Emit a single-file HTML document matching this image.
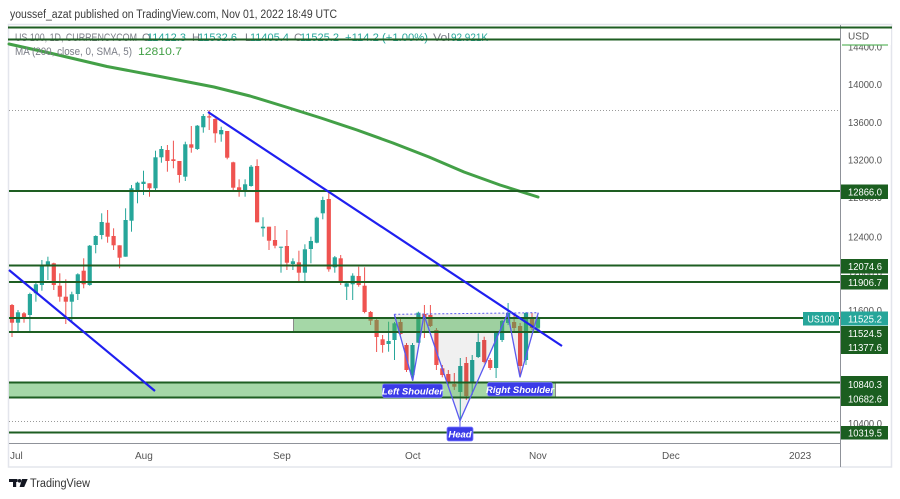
<!DOCTYPE html>
<html><head><meta charset="utf-8"><style>
html,body{margin:0;padding:0;background:#fff;}
svg{display:block;font-family:"Liberation Sans",Arial,sans-serif;}
</style></head><body>
<svg width="900" height="499" viewBox="0 0 900 499" xmlns="http://www.w3.org/2000/svg">
<rect width="900" height="499" fill="#fff"/>
<text x="10" y="18" font-size="11.5" fill="#3a3a3a" textLength="327" lengthAdjust="spacingAndGlyphs">youssef_azat published on TradingView.com, Nov 01, 2022 18:49 UTC</text>
<rect x="8.5" y="24.5" width="883" height="442.5" fill="#fff" stroke="#e3e5ec" stroke-width="1.5"/>

<!-- dotted high/low lines -->
<line x1="9" x2="840" y1="110.5" y2="110.5" stroke="#9a9a9a" stroke-width="1" stroke-dasharray="1,2"/>
<line x1="9" x2="840" y1="421.5" y2="421.5" stroke="#9a9a9a" stroke-width="1" stroke-dasharray="1,2"/>

<!-- red candles -->
<g fill="#ef5350">
<rect x="11.5" y="304" width="1" height="33"/><rect x="9.9" y="305" width="4.2" height="17.7"/>
<rect x="23.5" y="312" width="1" height="10.7"/><rect x="21.9" y="313.3" width="4.2" height="4"/>
<rect x="53.3" y="262.7" width="1" height="27.3"/><rect x="51.7" y="263.3" width="4.2" height="21.7"/>
<rect x="59.3" y="273.3" width="1" height="28.4"/><rect x="57.7" y="285.7" width="4.2" height="11"/>
<rect x="65.3" y="279.3" width="1" height="44.7"/><rect x="63.7" y="296.7" width="4.2" height="5"/>
<rect x="83.2" y="258.3" width="1" height="30"/><rect x="81.6" y="270.7" width="4.2" height="13.6"/>
<rect x="107.1" y="210" width="1" height="32.7"/><rect x="105.5" y="222.7" width="4.2" height="14"/>
<rect x="113.1" y="228.3" width="1" height="21.7"/><rect x="111.5" y="236" width="4.2" height="9.3"/>
<rect x="119.1" y="245.3" width="1" height="23"/><rect x="117.5" y="245.3" width="4.2" height="12.4"/>
<rect x="149" y="183.3" width="1" height="13.4"/><rect x="147.4" y="183.3" width="4.2" height="5"/>
<rect x="166.9" y="145" width="1" height="26.7"/><rect x="165.3" y="150" width="4.2" height="11"/>
<rect x="172.9" y="140.7" width="1" height="27.6"/><rect x="171.3" y="159.3" width="4.2" height="1.7"/>
<rect x="178.9" y="161" width="1" height="21.7"/><rect x="177.3" y="161" width="4.2" height="14"/>
<rect x="190.8" y="126" width="1" height="26.7"/><rect x="189.2" y="144.3" width="4.2" height="3.4"/>
<rect x="208.7" y="110" width="1" height="20"/><rect x="207.1" y="116.3" width="4.2" height="1.2"/>
<rect x="214.7" y="118.3" width="1" height="24.4"/><rect x="213.1" y="119" width="4.2" height="14.3"/>
<rect x="226.7" y="131" width="1" height="28.3"/><rect x="225.1" y="131" width="4.2" height="26.7"/>
<rect x="232.7" y="161.7" width="1" height="28.3"/><rect x="231.1" y="162.3" width="4.2" height="25.4"/>
<rect x="238.6" y="179.3" width="1" height="17.4"/><rect x="237" y="187.3" width="4.2" height="3.4"/>
<rect x="256.6" y="159.3" width="1" height="63"/><rect x="255" y="166" width="4.2" height="56.3"/>
<rect x="268.5" y="226.7" width="1" height="23.3"/><rect x="266.9" y="226.7" width="4.2" height="14"/>
<rect x="274.5" y="226" width="1" height="22.3"/><rect x="272.9" y="240" width="4.2" height="5.7"/>
<rect x="286.4" y="230" width="1" height="40"/><rect x="284.8" y="246" width="4.2" height="16.7"/>
<rect x="298.4" y="250.7" width="1" height="31"/><rect x="296.8" y="262.3" width="4.2" height="10.4"/>
<rect x="328.3" y="192.3" width="1" height="79.4"/><rect x="326.7" y="199" width="4.2" height="70.3"/>
<rect x="340.2" y="255" width="1" height="30"/><rect x="338.6" y="258.3" width="4.2" height="24.4"/>
<rect x="358.2" y="266.7" width="1" height="20"/><rect x="356.6" y="276" width="4.2" height="9"/>
<rect x="364.1" y="267.3" width="1" height="46"/><rect x="362.5" y="285.7" width="4.2" height="26.3"/>
<rect x="370.1" y="311" width="1" height="14"/><rect x="368.5" y="312" width="4.2" height="8.7"/>
<rect x="376.1" y="318" width="1" height="34"/><rect x="374.5" y="320" width="4.2" height="17"/>
<rect x="382.1" y="335" width="1" height="17.7"/><rect x="380.5" y="339.3" width="4.2" height="5.7"/>
<rect x="400" y="318" width="1" height="17"/><rect x="398.4" y="322" width="4.2" height="12"/>
<rect x="406" y="343" width="1" height="29"/><rect x="404.4" y="345" width="4.2" height="25"/>
<rect x="423.9" y="305" width="1" height="33"/><rect x="422.3" y="314" width="4.2" height="3"/>
<rect x="429.9" y="305" width="1" height="22"/><rect x="428.3" y="315" width="4.2" height="11"/>
<rect x="435.9" y="328" width="1" height="42"/><rect x="434.3" y="330" width="4.2" height="35"/>
<rect x="441.8" y="365" width="1" height="12.3"/><rect x="440.2" y="368.3" width="4.2" height="6.7"/>
<rect x="447.8" y="370" width="1" height="16.7"/><rect x="446.2" y="374" width="4.2" height="9.3"/>
<rect x="453.8" y="373" width="1" height="17"/><rect x="452.2" y="384" width="4.2" height="2.7"/>
<rect x="465.8" y="357" width="1" height="43"/><rect x="464.2" y="363" width="4.2" height="33"/>
<rect x="483.7" y="336.7" width="1" height="26.6"/><rect x="482.1" y="340" width="4.2" height="22"/>
<rect x="489.7" y="358" width="1" height="12"/><rect x="488.1" y="360" width="4.2" height="8"/>
<rect x="513.6" y="313" width="1" height="19"/><rect x="512" y="322" width="4.2" height="6"/>
<rect x="519.6" y="323" width="1" height="54.3"/><rect x="518" y="326" width="4.2" height="40"/>
<rect x="531.5" y="313" width="1" height="17"/><rect x="529.9" y="318" width="4.2" height="10"/>
</g>

<!-- green candles -->
<g fill="#26a69a">
<rect x="17.5" y="310" width="1" height="23"/><rect x="15.9" y="312.3" width="4.2" height="10.4"/>
<rect x="29.4" y="292.7" width="1" height="39"/><rect x="27.8" y="294" width="4.2" height="21"/>
<rect x="35.4" y="281.7" width="1" height="20"/><rect x="33.8" y="284.3" width="4.2" height="9"/>
<rect x="41.4" y="260" width="1" height="30.7"/><rect x="39.8" y="266" width="4.2" height="19"/>
<rect x="47.4" y="256.7" width="1" height="23.3"/><rect x="45.8" y="261.3" width="4.2" height="3.7"/>
<rect x="71.3" y="291.7" width="1" height="30"/><rect x="69.7" y="294.3" width="4.2" height="7.4"/>
<rect x="77.3" y="273.3" width="1" height="26.7"/><rect x="75.7" y="274.3" width="4.2" height="19.7"/>
<rect x="89.2" y="245" width="1" height="40.7"/><rect x="87.6" y="245.7" width="4.2" height="39.3"/>
<rect x="95.2" y="235.3" width="1" height="18"/><rect x="93.6" y="236" width="4.2" height="9"/>
<rect x="101.2" y="213.3" width="1" height="26"/><rect x="99.6" y="222" width="4.2" height="13"/>
<rect x="125.1" y="208.3" width="1" height="48.4"/><rect x="123.5" y="220" width="4.2" height="36.7"/>
<rect x="131" y="185" width="1" height="46.7"/><rect x="129.4" y="188.3" width="4.2" height="32.4"/>
<rect x="137" y="181.7" width="1" height="21.6"/><rect x="135.4" y="182.7" width="4.2" height="7.3"/>
<rect x="143" y="170.7" width="1" height="24.3"/><rect x="141.4" y="181.7" width="4.2" height="2.3"/>
<rect x="155" y="150.7" width="1" height="40"/><rect x="153.4" y="157.3" width="4.2" height="31"/>
<rect x="160.9" y="146" width="1" height="16.7"/><rect x="159.3" y="149" width="4.2" height="8.3"/>
<rect x="184.8" y="141.7" width="1" height="39.3"/><rect x="183.2" y="144.3" width="4.2" height="32.4"/>
<rect x="196.8" y="125" width="1" height="25"/><rect x="195.2" y="125.7" width="4.2" height="23.3"/>
<rect x="202.8" y="114" width="1" height="18.7"/><rect x="201.2" y="116" width="4.2" height="11.3"/>
<rect x="220.7" y="126.7" width="1" height="15"/><rect x="219.1" y="130" width="4.2" height="4.3"/>
<rect x="244.6" y="179.3" width="1" height="17.4"/><rect x="243" y="184.3" width="4.2" height="6.4"/>
<rect x="250.6" y="165" width="1" height="21.7"/><rect x="249" y="166.7" width="4.2" height="19.3"/>
<rect x="262.5" y="217.3" width="1" height="19.4"/><rect x="260.9" y="226.7" width="4.2" height="1.6"/>
<rect x="280.5" y="246.7" width="1" height="26"/><rect x="278.9" y="246.7" width="4.2" height="1"/>
<rect x="292.4" y="258.3" width="1" height="11.7"/><rect x="290.8" y="261.3" width="4.2" height="2.7"/>
<rect x="304.4" y="244.3" width="1" height="37.4"/><rect x="302.8" y="249.3" width="4.2" height="23.4"/>
<rect x="310.4" y="236.7" width="1" height="26.6"/><rect x="308.8" y="241" width="4.2" height="8"/>
<rect x="316.3" y="216.7" width="1" height="26.6"/><rect x="314.7" y="217.7" width="4.2" height="25"/>
<rect x="322.3" y="196.7" width="1" height="22.6"/><rect x="320.7" y="200" width="4.2" height="13.3"/>
<rect x="334.3" y="256" width="1" height="16.7"/><rect x="332.7" y="257.3" width="4.2" height="10"/>
<rect x="346.2" y="283" width="1" height="17"/><rect x="344.6" y="283.3" width="4.2" height="3.4"/>
<rect x="352.2" y="273.3" width="1" height="26.7"/><rect x="350.6" y="275.7" width="4.2" height="8.6"/>
<rect x="388.1" y="321.7" width="1" height="30"/><rect x="386.5" y="341" width="4.2" height="3"/>
<rect x="394" y="322" width="1" height="38"/><rect x="392.4" y="323.3" width="4.2" height="16.7"/>
<rect x="412" y="343" width="1" height="37.7"/><rect x="410.4" y="345" width="4.2" height="30"/>
<rect x="417.9" y="311.7" width="1" height="31.3"/><rect x="416.3" y="312.7" width="4.2" height="30"/>
<rect x="459.8" y="358" width="1" height="62.7"/><rect x="458.2" y="366" width="4.2" height="26"/>
<rect x="471.7" y="355" width="1" height="40"/><rect x="470.1" y="360" width="4.2" height="23"/>
<rect x="477.7" y="333.3" width="1" height="24.7"/><rect x="476.1" y="342" width="4.2" height="15"/>
<rect x="495.6" y="331.7" width="1" height="46.3"/><rect x="494" y="333" width="4.2" height="35"/>
<rect x="501.6" y="320" width="1" height="22"/><rect x="500" y="321" width="4.2" height="19"/>
<rect x="507.6" y="303" width="1" height="22"/><rect x="506" y="313" width="4.2" height="10"/>
<rect x="525.5" y="312" width="1" height="53"/><rect x="523.9" y="313" width="4.2" height="47"/>
<rect x="537.5" y="316.5" width="1" height="11.9"/><rect x="535.9" y="317.2" width="4.2" height="10.6"/>
</g>

<!-- pattern fill -->
<polygon points="394.3,314.3 412.7,380.7 424,315 460,420.7 507.7,313.3 520,377.3 538.3,312.7" fill="rgba(0,0,0,0.06)"/>

<!-- zones -->
<rect x="293" y="318" width="247" height="14" fill="rgba(76,175,80,0.5)"/>
<line x1="293.5" x2="293.5" y1="318" y2="332" stroke="#8a8a8a" stroke-width="1"/>
<rect x="9" y="382.5" width="546" height="15" fill="rgba(76,175,80,0.5)"/>
<line x1="555.5" x2="555.5" y1="382.5" y2="397.5" stroke="#8a8a8a" stroke-width="1"/>

<!-- MA -->
<polyline points="9,44 54,54 107,66.5 160,76.5 214,87 250,96 286,107 321,118 357,130 393,143 429,157 464,172 500,185 538,197" fill="none" stroke="#43a047" stroke-width="3" stroke-linejoin="round" stroke-linecap="round"/>

<!-- header legend text -->
<g font-size="11" fill="#7a7d86">
<text x="15" y="41" textLength="122" lengthAdjust="spacingAndGlyphs">US 100, 1D, CURRENCYCOM</text>
<text x="142" y="41">O</text>
<text x="147" y="41" fill="#26a69a" textLength="39" lengthAdjust="spacingAndGlyphs">11412.3</text>
<text x="192" y="41">H</text>
<text x="198" y="41" fill="#26a69a" textLength="39" lengthAdjust="spacingAndGlyphs">11532.6</text>
<text x="245" y="41">L</text>
<text x="250" y="41" fill="#26a69a" textLength="39" lengthAdjust="spacingAndGlyphs">11405.4</text>
<text x="294" y="41">C</text>
<text x="300" y="41" fill="#26a69a" textLength="39" lengthAdjust="spacingAndGlyphs">11525.2</text>
<text x="345" y="41" fill="#26a69a" textLength="83" lengthAdjust="spacingAndGlyphs">+114.2 (+1.00%)</text>
<text x="433" y="41" textLength="17" lengthAdjust="spacingAndGlyphs">Vol</text>
<text x="451" y="41" fill="#26a69a" textLength="37" lengthAdjust="spacingAndGlyphs">92.921K</text>
<text x="15" y="55" textLength="117" lengthAdjust="spacingAndGlyphs">MA (200, close, 0, SMA, 5)</text>
<text x="138" y="55" fill="#43a047" textLength="44" lengthAdjust="spacingAndGlyphs">12810.7</text>
</g>

<!-- horizontal levels -->
<g stroke="#1e5e22" stroke-width="2">
<line x1="8" x2="892" y1="27.5" y2="27.5"/>
<line x1="8" x2="840" y1="39.5" y2="39.5"/>
<line x1="9" x2="840" y1="191" y2="191"/>
<line x1="9" x2="840" y1="265.5" y2="265.5"/>
<line x1="9" x2="840" y1="282" y2="282"/>
<line x1="9" x2="840" y1="318" y2="318"/>
<line x1="9" x2="840" y1="332" y2="332"/>
<line x1="9" x2="840" y1="382.5" y2="382.5"/>
<line x1="9" x2="840" y1="397.5" y2="397.5"/>
<line x1="9" x2="840" y1="432.5" y2="432.5"/>
</g>

<!-- trend lines -->
<line x1="9" y1="270" x2="155" y2="391" stroke="#1f1ff0" stroke-width="2.2"/>
<line x1="208" y1="112" x2="562" y2="346" stroke="#1f1ff0" stroke-width="2.2"/>

<!-- H&S pattern -->
<polyline points="394.3,314.3 412.7,380.7 424,315 460,420.7 507.7,313.3 520,377.3 538.3,312.7" fill="none" stroke="#5a5af0" stroke-width="1.3"/>
<line x1="394.3" y1="314.3" x2="538.3" y2="312.7" stroke="#5a5af0" stroke-width="1" stroke-dasharray="2,2"/>
<line x1="460" y1="421" x2="460" y2="427" stroke="#5a5af0" stroke-width="1"/>

<g font-size="9.5" font-weight="bold" font-style="italic" fill="#fff" text-anchor="middle">
<rect x="382.5" y="384" width="60" height="13.5" rx="2" fill="#3b3be8" stroke="#8080ff" stroke-width="0.8"/>
<text x="412.5" y="394.3">Left Shoulder</text>
<rect x="487.5" y="382.5" width="65" height="13.5" rx="2" fill="#3b3be8" stroke="#8080ff" stroke-width="0.8"/>
<text x="520" y="392.8">Right Shoulder</text>
<rect x="447" y="427" width="26" height="14" rx="2" fill="#3b3be8" stroke="#8080ff" stroke-width="0.8"/>
<text x="460" y="437.5">Head</text>
</g>

<!-- axes -->
<line x1="840.5" x2="840.5" y1="25" y2="467" stroke="#8f9299" stroke-width="1"/>
<line x1="9" x2="840" y1="443.5" y2="443.5" stroke="#8f9299" stroke-width="1"/>

<!-- price axis labels -->
<g font-size="10" fill="#555">
<text x="848" y="50.5" textLength="34" lengthAdjust="spacingAndGlyphs">14400.0</text>
<text x="848" y="88" textLength="34" lengthAdjust="spacingAndGlyphs">14000.0</text>
<text x="848" y="126" textLength="34" lengthAdjust="spacingAndGlyphs">13600.0</text>
<text x="848" y="163.5" textLength="34" lengthAdjust="spacingAndGlyphs">13200.0</text>
<text x="848" y="201" textLength="34" lengthAdjust="spacingAndGlyphs">12800.0</text>
<text x="848" y="240.5" textLength="34" lengthAdjust="spacingAndGlyphs">12400.0</text>
<text x="848" y="276.5" textLength="34" lengthAdjust="spacingAndGlyphs">12000.0</text>
<text x="848" y="314" textLength="34" lengthAdjust="spacingAndGlyphs">11600.0</text>
<text x="848" y="427" textLength="34" lengthAdjust="spacingAndGlyphs">10400.0</text>
</g>
<rect x="841" y="29" width="50" height="16" fill="#fff"/>
<line x1="842" x2="888" y1="45" y2="45" stroke="rgba(76,175,80,0.55)" stroke-width="2"/>
<line x1="840" x2="892" y1="27.5" y2="27.5" stroke="#1e5e22" stroke-width="2"/>
<text x="848" y="39.5" font-size="10" fill="#555">USD</text>

<g font-size="10" fill="#fff">
<rect x="841" y="184.5" width="47" height="14.5" fill="#1b5e20"/>
<text x="848" y="195.5" textLength="34" lengthAdjust="spacingAndGlyphs">12866.0</text>
<rect x="841" y="259" width="47" height="14.5" fill="#1b5e20"/>
<text x="848" y="270" textLength="34" lengthAdjust="spacingAndGlyphs">12074.6</text>
<rect x="841" y="275" width="47" height="14.5" fill="#1b5e20"/>
<text x="848" y="286" textLength="34" lengthAdjust="spacingAndGlyphs">11906.7</text>
<rect x="841" y="311.5" width="47" height="14" fill="#26a69a"/>
<text x="848" y="322.3" textLength="34" lengthAdjust="spacingAndGlyphs">11525.2</text>
<rect x="841" y="326" width="47" height="28" fill="#1b5e20"/>
<text x="848" y="337" textLength="34" lengthAdjust="spacingAndGlyphs">11524.5</text>
<text x="848" y="351" textLength="34" lengthAdjust="spacingAndGlyphs">11377.6</text>
<rect x="841" y="376" width="47" height="30" fill="#1b5e20"/>
<text x="848" y="388" textLength="34" lengthAdjust="spacingAndGlyphs">10840.3</text>
<text x="848" y="402.5" textLength="34" lengthAdjust="spacingAndGlyphs">10682.6</text>
<rect x="841" y="426" width="47" height="13.5" fill="#1b5e20"/>
<text x="848" y="436.5" textLength="34" lengthAdjust="spacingAndGlyphs">10319.5</text>
<rect x="803" y="312" width="36" height="13.5" fill="#26a69a"/>
<text x="821" y="322.5" text-anchor="middle" textLength="27" lengthAdjust="spacingAndGlyphs">US100</text>
</g>

<!-- time axis labels -->
<g font-size="10" fill="#555">
<text x="10" y="459">Jul</text>
<text x="135" y="459">Aug</text>
<text x="273" y="459">Sep</text>
<text x="405" y="459">Oct</text>
<text x="529" y="459">Nov</text>
<text x="662" y="459">Dec</text>
<text x="789" y="459">2023</text>
</g>

<!-- TradingView logo -->
<g fill="#131722">
<rect x="9" y="479" width="8.5" height="3"/>
<rect x="13" y="479" width="3.2" height="8"/>
<circle cx="19.5" cy="480.8" r="1.8"/>
<polygon points="22,479 27.7,479 24.2,487 19.6,487"/>
</g>
<text x="30" y="487" font-size="11.5" fill="#333" textLength="60" lengthAdjust="spacingAndGlyphs">TradingView</text>
</svg>
</body></html>
